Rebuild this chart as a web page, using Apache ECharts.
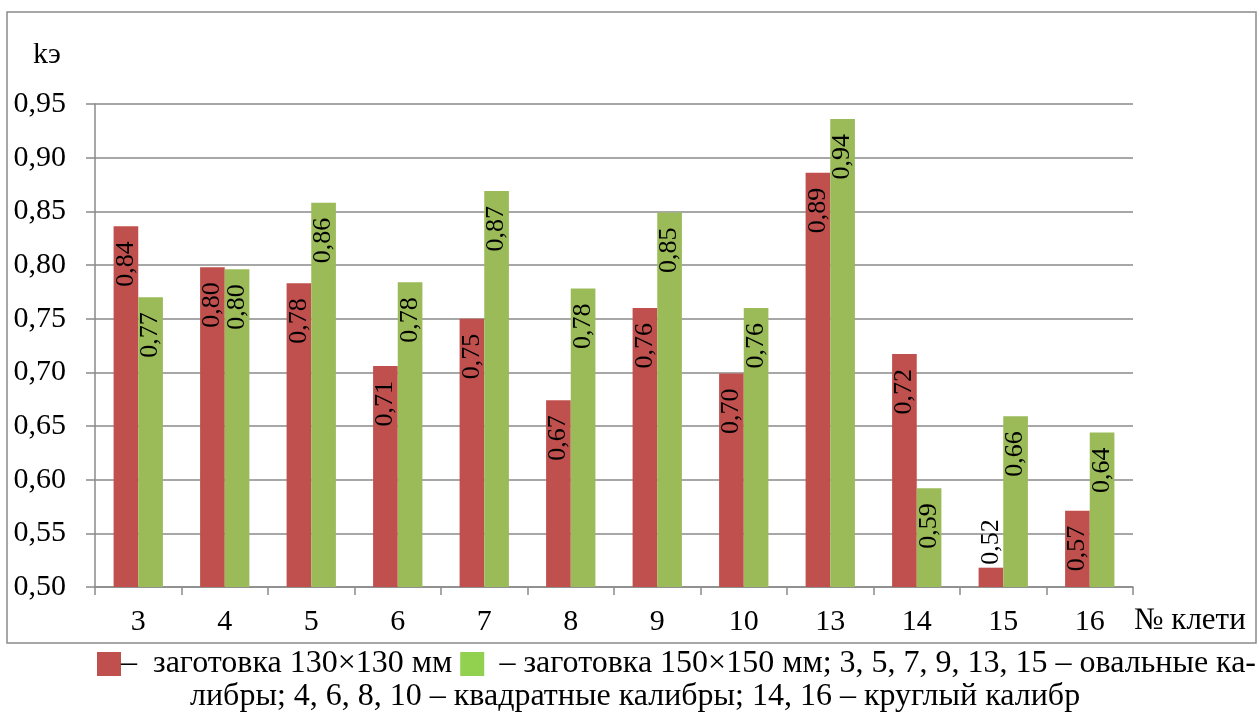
<!DOCTYPE html>
<html>
<head>
<meta charset="utf-8">
<script src="https://cdn.jsdelivr.net/npm/echarts@6/dist/echarts.min.js"></script>
<style>
html,body{margin:0;padding:0;background:#fff;}
#chart{width:1258px;height:720px;}
</style>
</head>
<body>
<div id="chart"></div>
<script>
const categories = ['3','4','5','6','7','8','9','10','13','14','15','16'];
const billet130 = [0.836,0.798,0.783,0.706,0.750,0.674,0.760,0.699,0.886,0.717,0.518,0.571];
const billet150 = [0.770,0.796,0.858,0.784,0.869,0.778,0.849,0.760,0.936,0.592,0.659,0.644];
const yTicks = {min:0.50, max:0.95, step:0.05};
const seriesNames = ['заготовка 130×130 мм','заготовка 150×150 мм'];
const yAxisName = 'kэ';
const xAxisName = '№ клети';
const captionLine1Tail = '– ' + seriesNames[1] + '; 3, 5, 7, 9, 13, 15 – овальные ка-';
const captionLine2 = 'либры; 4, 6, 8, 10 – квадратные калибры; 14, 16 – круглый калибр';

const FONT = 'Liberation Serif';
const fmt = v => v.toFixed(2).replace('.', ',');

const insideLabel = {
  show:true, position:'insideTop', rotate:90, align:'right', verticalAlign:'middle',
  distance:15, fontFamily:FONT, fontSize:26, color:'#000',
  formatter:p => fmt(p.value)
};
const outsideLabel = Object.assign({}, insideLabel, {position:'top', align:'left', distance:3});
function buildData(arr){
  return arr.map(v => (v - yTicks.min) < 0.06 ? {value:v, label:outsideLabel} : v);
}

const chart = echarts.init(document.getElementById('chart'));
chart.setOption({
  backgroundColor:'#fff',
  animation:false,
  textStyle:{fontFamily:FONT},
  grid:{left:95, right:125, top:104, bottom:133, containLabel:false},
  xAxis:{
    type:'category', data:categories,
    axisLine:{lineStyle:{color:'#8a8a8a', width:1.5}},
    axisTick:{show:true, length:8, lineStyle:{color:'#8a8a8a', width:1.5}},
    axisLabel:{fontFamily:FONT, fontSize:30, color:'#000', margin:20}
  },
  yAxis:{
    type:'value', min:yTicks.min, max:yTicks.max, interval:yTicks.step,
    axisLine:{show:true, lineStyle:{color:'#8a8a8a', width:1.5}},
    axisTick:{show:true, length:9, lineStyle:{color:'#8a8a8a', width:1.5}},
    splitLine:{lineStyle:{color:'#8a8a8a', width:1.5}},
    axisLabel:{fontFamily:FONT, fontSize:30, color:'#000', margin:29, formatter:v => fmt(v)}
  },
  series:[
    {name:seriesNames[0], type:'bar', data:buildData(billet130), barGap:'0%', barCategoryGap:'43%',
     itemStyle:{color:'#C0504D'}, label:insideLabel},
    {name:seriesNames[1], type:'bar', data:buildData(billet150), barGap:'0%', barCategoryGap:'43%',
     itemStyle:{color:'#9BBB59'}, label:insideLabel}
  ],
  graphic:[
    {type:'rect', z:-1, shape:{x:7, y:12, width:1249, height:631},
     style:{fill:'none', stroke:'#8a8a8a', lineWidth:1.5}},
    {type:'text', left:33, top:40, style:{text:yAxisName, fontFamily:FONT, fontSize:30, fill:'#000'}},
    {type:'text', left:1134, top:605, style:{text:xAxisName, fontFamily:FONT, fontSize:31, fill:'#000'}},
    {type:'text', left:97, top:648, style:{
      text:'{r| }{t|–  ' + seriesNames[0] + ' }{g| }',
      fontFamily:FONT, fontSize:32,
      rich:{
        r:{width:24, height:24, backgroundColor:'#C0504D'},
        g:{width:24, height:24, backgroundColor:'#92D050'},
        t:{fontFamily:FONT, fontSize:32, fill:'#000'}
      }
    }},
    {type:'text', right:2, top:648, style:{text:captionLine1Tail, fontFamily:FONT, fontSize:32, fill:'#000'}},
    {type:'text', left:190, top:681, style:{text:captionLine2, fontFamily:FONT, fontSize:32, fill:'#000'}}
  ]
});
</script>
</body>
</html>
